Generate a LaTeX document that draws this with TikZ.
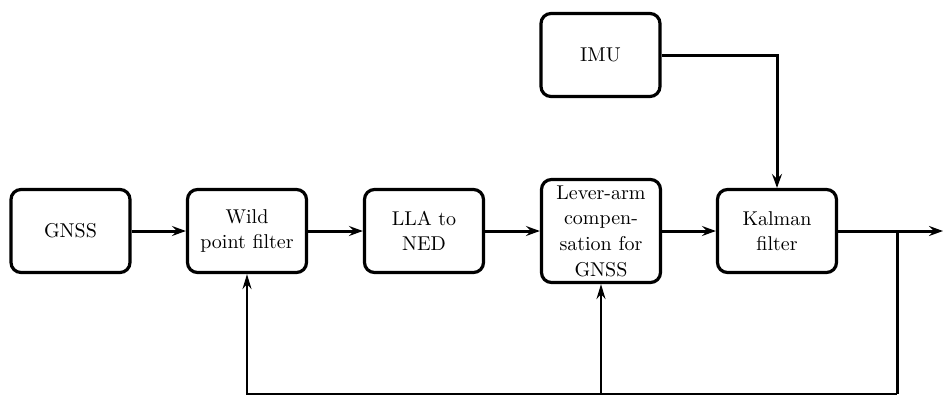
\documentclass[tikz,border=0pt]{standalone}
\usetikzlibrary{arrows.meta}
\begin{document}
\begin{tikzpicture}[x=0.5pt,y=-0.5pt,
  blk/.style={draw,line width=1.6pt,rounded corners=5pt,minimum width=59.5pt,
    minimum height=41.5pt,align=center,inner sep=1pt,
    font=\fontsize{10}{12.8}\selectfont},
  tall/.style={blk,minimum height=51.5pt},
  flow/.style={line width=1.5pt,-{Stealth[length=7pt,width=5pt,inset=2.5pt]}},
  fb/.style={line width=1pt,-{Stealth[length=7.5pt,width=4.5pt,inset=2.5pt]}}]
\useasboundingbox (0,0) rectangle (943,398);
\node[blk]  (gnss)   at (70.5,231) {GNSS};
\node[blk]  (wild)   at (247,231)  {Wild\\point filter};
\node[blk]  (lla)    at (424,231)  {LLA to\\NED};
\node[tall] (lever)  at (601,231)  {Lever-arm\\compen-\\sation for\\GNSS};
\node[blk]  (kalman) at (777,231)  {Kalman\\filter};
\node[blk]  (imu)    at (600.5,55) {IMU};
\coordinate (out)    at (943,231);
\coordinate (branch) at (897,231);
\coordinate (corner) at (897,394);
% forward chain
\draw[flow] (gnss) -- (wild);
\draw[flow] (wild) -- (lla);
\draw[flow] (lla) -- (lever);
\draw[flow] (lever) -- (kalman);
\draw[flow] (kalman) -- (out);
\draw[flow] (imu) -| (kalman);
% feedback paths
\draw[line width=1.5pt] (branch) -- (corner);
\draw[fb] (corner) -| (wild.south);
\draw[fb] (lever.south |- corner) -- (lever.south);
\end{tikzpicture}
\end{document}
